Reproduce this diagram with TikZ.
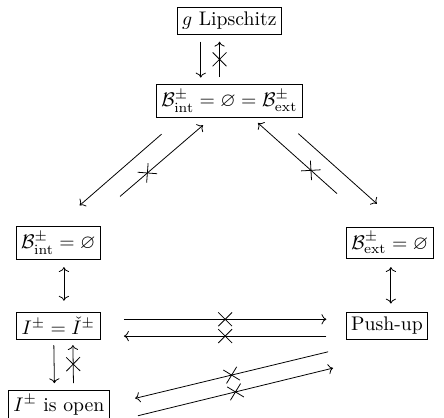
\documentclass[tikz,border=0pt]{standalone}
\usepackage{amsmath,amssymb}
\usepackage{tikz}
\usetikzlibrary{arrows.meta,decorations.markings}

\begin{document}
\begin{tikzpicture}[
  box/.style={draw,inner sep=2.5pt},
  arr/.style={-{Computer Modern Rightarrow}},
  darr/.style={{Computer Modern Rightarrow}-{Computer Modern Rightarrow}},
  nimp/.style={decoration={markings,mark=at position #1 with {\draw[-] (-3.5pt,-3.5pt)--(3.5pt,3.5pt) (-3.5pt,3.5pt)--(3.5pt,-3.5pt);}},postaction={decorate}},
  nimp/.default=0.5]
\useasboundingbox (0,0) rectangle (7.917,7.453);
\node[box] (lip) at (4.09,7.08) {$g$ Lipschitz};
\node[box] (B) at (4.09,5.65) {$\mathcal{B}^\pm_{\mathrm{int}} = \varnothing = \mathcal{B}^\pm_{\mathrm{ext}}$};
\node[box] (Bint) at (1.04,3.12) {$\mathcal{B}^\pm_{\mathrm{int}} = \varnothing$};
\node[box] (Bext) at (6.95,3.12) {$\mathcal{B}^\pm_{\mathrm{ext}} = \varnothing$};
\node[box] (I) at (1.04,1.64) {$I^\pm = \check{I}^\pm$};
\node[box] (push) at (6.90,1.64) {Push-up};
\node[box] (open) at (1.05,0.23) {$I^\pm$ is open};
\draw[arr] ([shift={(-0.51,-0.37)}]lip.center) -- ([shift={(-0.51,0.42)}]B.center);
\draw[arr,nimp] ([shift={(-0.175,0.43)}]B.center) -- ([shift={(-0.175,-0.37)}]lip.center);
\draw[arr] ([shift={(-1.21,-0.59)}]B.center) -- ([shift={(0.38,0.67)}]Bint.center);
\draw[arr,nimp=0.33] ([shift={(1.10,0.83)}]Bint.center) -- ([shift={(-0.47,-0.43)}]B.center);
\draw[arr,nimp=0.33] ([shift={(-0.94,0.88)}]Bext.center) -- ([shift={(0.51,-0.39)}]B.center);
\draw[arr] ([shift={(1.23,-0.58)}]B.center) -- ([shift={(-0.23,0.70)}]Bext.center);
\draw[darr] ([shift={(0.10,-0.43)}]Bint.center) -- ([shift={(0.10,0.45)}]I.center);
\draw[darr] ([shift={(0.02,-0.43)}]Bext.center) -- ([shift={(0.07,0.40)}]push.center);
\draw[arr,nimp] ([shift={(1.17,0.12)}]I.center) -- ([shift={(-1.08,0.12)}]push.center);
\draw[arr,nimp] ([shift={(-1.08,-0.18)}]push.center) -- ([shift={(1.17,-0.18)}]I.center);
\draw[arr] ([shift={(-0.08,-0.34)}]I.center) -- ([shift={(-0.08,0.39)}]open.center);
\draw[arr,nimp] ([shift={(0.26,0.39)}]open.center) -- ([shift={(0.26,-0.34)}]I.center);
\draw[arr,nimp] ([shift={(-1.05,-0.46)}]push.center) -- ([shift={(1.36,0.12)}]open.center);
\draw[arr,nimp] ([shift={(1.41,-0.19)}]open.center) -- ([shift={(-0.96,-0.75)}]push.center);
\end{tikzpicture}
\end{document}
